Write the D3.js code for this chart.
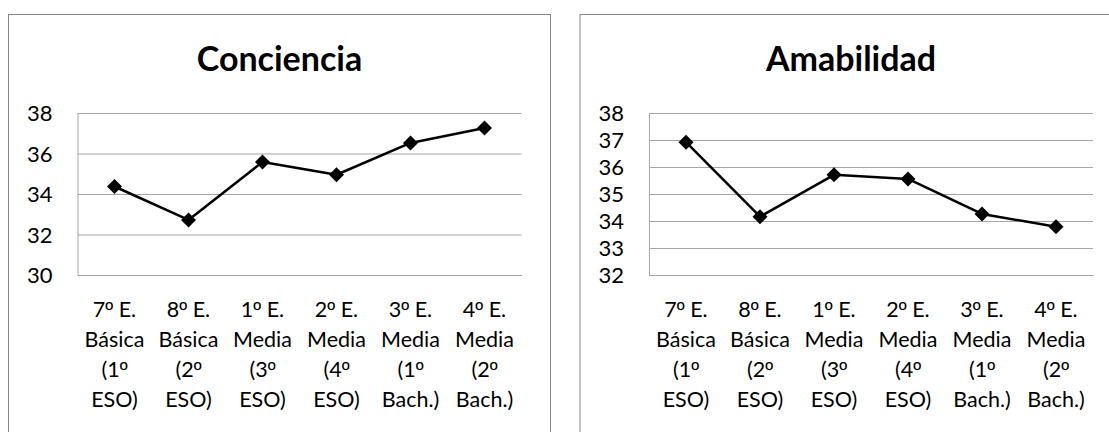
<!DOCTYPE html>
<html>
<head>
<meta charset="utf-8">
<script src="https://cdn.jsdelivr.net/npm/d3@7"></script>
<style>
  html, body { margin: 0; padding: 0; background: #fff; }
  svg { display: block; }
  text { font-family: Lato, "Open Sans", sans-serif; fill: #000; }
  .ord { font-family: "Liberation Sans", "DejaVu Sans", sans-serif; }
</style>
</head>
<body>
<svg id="chart" width="1109" height="432"></svg>
<script>
// Grade levels (one array entry per label line)
const categories = [
  ["7º E.", "Básica", "(1º", "ESO)"],
  ["8º E.", "Básica", "(2º", "ESO)"],
  ["1º E.", "Media", "(3º", "ESO)"],
  ["2º E.", "Media", "(4º", "ESO)"],
  ["3º E.", "Media", "(1º", "Bach.)"],
  ["4º E.", "Media", "(2º", "Bach.)"]
];

const concienciaValues = [34.37, 32.72, 35.58, 34.95, 36.52, 37.26];
const amabilidadValues = [36.92, 34.16, 35.71, 35.56, 34.26, 33.79];

const concienciaTicks = [30, 32, 34, 36, 38];
const amabilidadTicks = [32, 33, 34, 35, 36, 37, 38];

const panels = [
  { title: "Conciencia", values: concienciaValues, ticks: concienciaTicks, x0: 8.5 },
  { title: "Amabilidad", values: amabilidadValues, ticks: amabilidadTicks, x0: 580 }
];

const svg = d3.select("#chart");

const boxW = 542, boxTop = 14.5, boxH = 460;
const plot = { left: 69, top: 113, width: 444, height: 162 };

panels.forEach(p => {
  const g = svg.append("g").attr("transform", `translate(${p.x0},0)`);

  // outer frame
  g.append("rect")
    .attr("x", 0).attr("y", boxTop)
    .attr("width", boxW).attr("height", boxH)
    .attr("fill", "#fff").attr("stroke", "#868686").attr("stroke-width", 1);

  // title
  g.append("text")
    .attr("x", boxW / 2).attr("y", 71)
    .attr("text-anchor", "middle")
    .style("font-weight", "700").style("font-size", "34px")
    .text(p.title);

  const x = d3.scaleBand()
    .domain(d3.range(categories.length))
    .range([plot.left, plot.left + plot.width])
    .padding(0);

  const y = d3.scaleLinear()
    .domain(d3.extent(p.ticks))
    .range([plot.top + plot.height, plot.top]);

  // horizontal gridlines
  const grid = g.append("g")
    .attr("transform", `translate(${plot.left},0)`)
    .call(d3.axisLeft(y).tickValues(p.ticks).tickSize(-plot.width).tickFormat(""));
  grid.select(".domain").remove();
  grid.selectAll(".tick line").attr("stroke", "#a6a6a6").attr("stroke-width", 1);

  // y axis line + labels
  const yAxis = g.append("g")
    .attr("transform", `translate(${plot.left},0)`)
    .call(d3.axisLeft(y).tickValues(p.ticks).tickSize(0).tickPadding(25).tickFormat(d3.format("d")));
  yAxis.select(".domain").attr("stroke", "#a6a6a6");
  yAxis.selectAll(".tick text")
    .style("font-size", "22px").attr("dy", "0.36em");

  // x axis line
  const xAxis = g.append("g")
    .attr("transform", `translate(0,${plot.top + plot.height})`)
    .call(d3.axisBottom(x).tickSize(0).tickFormat(""));
  xAxis.select(".domain").attr("stroke", "#a6a6a6");

  // multi-line category labels; the ordinal sign uses a face with the underlined form
  xAxis.selectAll(".tick").each(function (i) {
    const t = d3.select(this).append("text")
      .attr("text-anchor", "middle")
      .style("font-size", "21.5px");
    categories[i].forEach((line, k) => {
      const row = t.append("tspan").attr("x", 0).attr("y", 42 + k * 30);
      line.split(/(º)/).filter(s => s.length).forEach(part => {
        const s = row.append("tspan").text(part);
        if (part === "º") s.attr("class", "ord");
      });
    });
  });

  // series line
  const cx = i => x(i) + x.bandwidth() / 2;
  g.append("path")
    .datum(p.values)
    .attr("fill", "none").attr("stroke", "#000").attr("stroke-width", 2.5)
    .attr("stroke-linejoin", "round")
    .attr("d", d3.line().x((d, i) => cx(i)).y(d => y(d)));

  // diamond markers
  g.selectAll(".marker")
    .data(p.values)
    .join("path")
    .attr("class", "marker")
    .attr("transform", (d, i) => `translate(${cx(i)},${y(d)})`)
    .attr("d", "M0,-7.5L7.5,0L0,7.5L-7.5,0Z")
    .attr("fill", "#000");
});
</script>
</body>
</html>
